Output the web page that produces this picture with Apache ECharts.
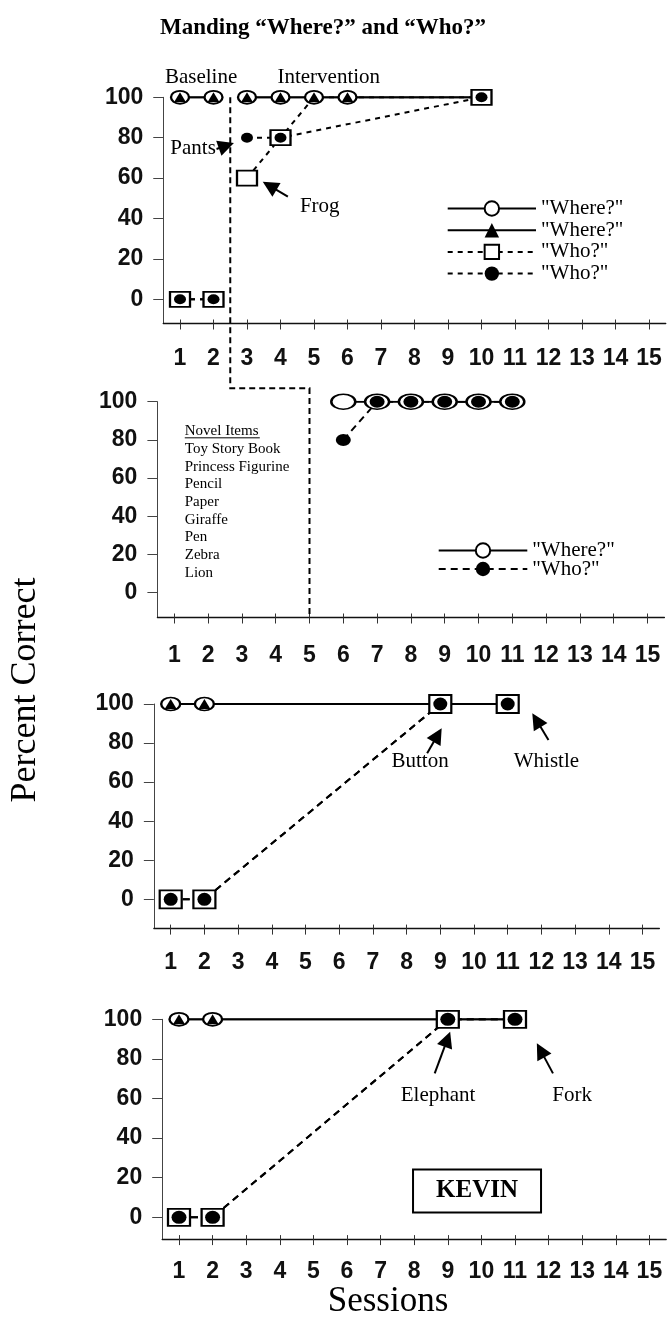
<!DOCTYPE html>
<html>
<head>
<meta charset="utf-8">
<script src="https://cdn.jsdelivr.net/npm/echarts@6/dist/echarts.min.js"></script>
<style>
  html, body { margin: 0; padding: 0; background: #fff; }
  #main { width: 667px; height: 1335px; }
</style>
</head>
<body>
<div id="main"></div>
<script>
// ---- data ----
var sessions = [1, 2, 3, 4, 5, 6, 7, 8, 9, 10, 11, 12, 13, 14, 15];
var yTicks = [0, 20, 40, 60, 80, 100];

// panel 1 (baseline: sessions 1-2, intervention: 3 on)
var p1WhereCircleBase = [[1, 100], [2, 100]];
var p1WhereCircleInt = [[3, 100], [4, 100], [5, 100], [6, 100], [10, 100]];
var p1WhereTriBase = [[1, 100], [2, 100]];
var p1WhereTriInt = [[3, 100], [4, 100], [5, 100], [6, 100], [10, 100]];
var p1WhoSquareBase = [[1, 0], [2, 0]];
var p1WhoSquareInt = [[3, 60], [4, 80], [5, 100], [10, 100]];
var p1WhoDotBase = [[1, 0], [2, 0]];
var p1WhoDotInt = [[3, 80], [4, 80], [10, 100]];

// panel 2 (novel items)
var p2Where = [[6, 100], [7, 100], [8, 100], [9, 100], [10, 100], [11, 100]];
var p2Who = [[6, 80], [7, 100], [8, 100], [9, 100], [10, 100], [11, 100]];
var novelItems = ['Toy Story Book', 'Princess Figurine', 'Pencil', 'Paper', 'Giraffe', 'Pen', 'Zebra', 'Lion'];

// panel 3
var p3WhereCircle = [[1, 100], [2, 100], [9, 100], [11, 100]];
var p3WhereTri = [[1, 100], [2, 100], [9, 100], [11, 100]];
var p3WhoSquare = [[1, 0], [2, 0], [9, 100], [11, 100]];
var p3WhoDot = [[1, 0], [2, 0], [9, 100], [11, 100]];

// panel 4
var p4WhereCircle = [[1, 100], [2, 100], [9, 100], [11, 100]];
var p4WhereTri = [[1, 100], [2, 100], [9, 100], [11, 100]];
var p4WhoSquare = [[1, 0], [2, 0], [9, 100], [11, 100]];
var p4WhoDot = [[1, 0], [2, 0], [9, 100], [11, 100]];

var legendNames = { p1A: '"Where?"', p1B: '"Where?"', p1C: '"Who?"', p1D: '"Who?"', p2A: '"Where?"', p2B: '"Who?"' };

// ---- layout ----
var serif = "'Liberation Serif','Times New Roman',serif";
var sans = "'Liberation Sans',Arial,sans-serif";
var grids = [
    { left: 163.25, top: 97.3, width: 502.5, height: 226.2 },
    { left: 157.4, top: 401.7, width: 507, height: 215.8 },
    { left: 153.85, top: 704, width: 505.5, height: 224.6 },
    { left: 162.2, top: 1019.3, width: 504, height: 219.8 }
];
var yMins = [-12, -13, -15, -11];
var xLabelMargins = [24, 27, 23, 21];

var chart = echarts.init(document.getElementById('main'), null, { renderer: 'canvas' });

var xAxes = grids.map(function (g, i) {
    return {
        type: 'value', gridIndex: i, min: 0.5, max: 15.5,
        axisLine: { show: true, onZero: false, lineStyle: { color: '#111', width: 1.3 } },
        axisTick: { show: true, customValues: sessions, length: 6, lineStyle: { color: '#333' } },
        axisLabel: { customValues: sessions, margin: xLabelMargins[i], fontSize: 23, fontWeight: 'bold', fontFamily: sans, color: '#111' },
        splitLine: { show: false }
    };
});
// second x axis on each grid only for the inner half of the "+" ticks
grids.forEach(function (g, i) {
    xAxes.push({
        type: 'value', gridIndex: i, min: 0.5, max: 15.5, position: 'bottom',
        axisLine: { show: false, onZero: false },
        axisTick: { show: true, inside: true, customValues: sessions, length: 4, lineStyle: { color: '#333' } },
        axisLabel: { show: false },
        splitLine: { show: false }
    });
});
var yAxes = grids.map(function (g, i) {
    return {
        type: 'value', gridIndex: i, min: yMins[i], max: 100,
        axisLine: { show: true, onZero: false, lineStyle: { color: '#444', width: 1 } },
        axisTick: { show: true, customValues: yTicks, length: 10, lineStyle: { color: '#444' } },
        axisLabel: { customValues: yTicks, margin: 20, fontSize: 23, fontWeight: 'bold', fontFamily: sans, color: '#111' },
        splitLine: { show: false }
    };
});

function ser(name, gi, data, symbol, size, dash) {
    return {
        name: name, type: 'line', xAxisIndex: gi, yAxisIndex: gi, data: data,
        symbol: symbol, symbolSize: size, showSymbol: true, animation: false,
        itemStyle: { color: '#000', borderColor: '#000', borderWidth: symbol.indexOf('empty') === 0 ? 2 : 0 },
        lineStyle: { color: '#000', width: 2, type: dash || 'solid' },
        emphasis: { disabled: true }
    };
}
var shortDash = [5, 5];
var midDash = [7, 5];

// the square at session 5 sits hidden under the "Where?" circle
var p1SquareIntItems = p1WhoSquareInt.map(function (d) {
    return d[0] === 5 ? { value: d, symbol: 'none' } : d;
});

var series = [
    ser('p1A', 0, p1WhereCircleBase, 'emptyCircle', [18, 13]),
    ser('p1A', 0, p1WhereCircleInt, 'emptyCircle', [18, 13]),
    ser('p1B', 0, p1WhereTriBase, 'triangle', [12, 10]),
    ser('p1B', 0, p1WhereTriInt, 'triangle', [12, 10]),
    ser('p1C', 0, p1WhoSquareBase, 'emptyRect', [20, 15], shortDash),
    ser('p1C', 0, p1SquareIntItems, 'emptyRect', [20, 15], shortDash),
    ser('p1D', 0, p1WhoDotBase, 'circle', [12, 10], shortDash),
    ser('p1D', 0, p1WhoDotInt, 'circle', [12, 10], shortDash),

    ser('p2A', 1, p2Where, 'emptyCircle', [24, 15]),
    ser('p2B', 1, p2Who, 'circle', [15, 12], midDash),

    ser('p3A', 2, p3WhereCircle, 'emptyCircle', [19, 13]),
    ser('p3B', 2, p3WhereTri, 'triangle', [12, 10]),
    ser('p3C', 2, p3WhoSquare, 'emptyRect', [22, 18], midDash),
    ser('p3D', 2, p3WhoDot, 'circle', [14, 13], midDash),

    ser('p4A', 3, p4WhereCircle, 'emptyCircle', [19, 13]),
    ser('p4B', 3, p4WhereTri, 'triangle', [12, 10]),
    ser('p4C', 3, p4WhoSquare, 'emptyRect', [22, 17], midDash),
    ser('p4D', 3, p4WhoDot, 'circle', [15, 13], midDash)
];

function legendFmt(n) { return legendNames[n]; }

chart.setOption({
    backgroundColor: '#fff',
    animation: false,
    grid: grids,
    xAxis: xAxes,
    yAxis: yAxes,
    legend: [
        {
            data: ['p1A', 'p1B', 'p1C', 'p1D'], orient: 'vertical', left: 441.7, top: 193,
            itemWidth: 88.3, itemHeight: 18, itemGap: 0.7, selectedMode: false, formatter: legendFmt,
            textStyle: { fontFamily: serif, fontSize: 21, lineHeight: 18, color: '#000' }
        },
        {
            data: ['p2A', 'p2B'], orient: 'vertical', left: 432.7, top: 535,
            itemWidth: 88.6, itemHeight: 18, itemGap: -2.5, selectedMode: false, formatter: legendFmt,
            textStyle: { fontFamily: serif, fontSize: 21, lineHeight: 18, color: '#000' }
        }
    ],
    series: series
});

// ---- annotations (positions in each panel's data units) ----
function px(gi, p) { return chart.convertToPixel({ gridIndex: gi }, p); }

function txt(gi, p, s, opt) {
    var q = px(gi, p);
    opt = opt || {};
    return {
        type: 'text', x: q[0], y: q[1], z: 50,
        style: {
            text: s, fontFamily: serif, fontSize: opt.size || 21, fontWeight: opt.weight || 'normal',
            fill: '#000', align: opt.align || 'center', verticalAlign: opt.valign || 'middle',
            lineHeight: opt.lineHeight
        }
    };
}

function arrow(gi, from, to) {
    var a = px(gi, from), b = px(gi, to);
    var dx = b[0] - a[0], dy = b[1] - a[1];
    var len = Math.sqrt(dx * dx + dy * dy);
    var ux = dx / len, uy = dy / len;
    var hl = 16, hw = 8;
    var bx = b[0] - ux * hl, by = b[1] - uy * hl;
    return [
        { type: 'line', z: 50, shape: { x1: a[0], y1: a[1], x2: bx + ux * 2, y2: by + uy * 2 }, style: { stroke: '#000', lineWidth: 2 } },
        { type: 'polygon', z: 50, shape: { points: [b, [bx - uy * hw, by + ux * hw], [bx + uy * hw, by - ux * hw]] }, style: { fill: '#000' } }
    ];
}

// phase change line: panel 1 between sessions 2 and 3, stepping to session 5 of panel 2
var ph1 = px(0, [2.5, 100]);
var phStep = px(1, [5, 107]);
var ph2 = px(1, [5, yMins[1]]);
var phase = {
    type: 'polyline', z: 40,
    shape: { points: [ph1, [ph1[0], phStep[1]], phStep, ph2] },
    style: { stroke: '#000', lineWidth: 2, lineDash: [6, 4], fill: null }
};

var novelTop = px(1, [1.31, 89.2]);
var kevin = px(3, [9.87, 13.3]);

var graphics = [
    phase,
    txt(0, [1.63, 110], 'Baseline'),
    txt(0, [5.44, 110], 'Intervention'),
    txt(0, [2.07, 74.7], 'Pants', { align: 'right' }),
    txt(0, [4.58, 45.7], 'Frog', { align: 'left' }),
    txt(1, [1.31, 89.2], ['Novel Items'].concat(novelItems).join('\n'), { size: 15, align: 'left', valign: 'top', lineHeight: 17.7 }),
    {
        type: 'line', z: 50,
        shape: { x1: novelTop[0], y1: novelTop[1] + 15.5, x2: novelTop[0] + 75, y2: novelTop[1] + 15.5 },
        style: { stroke: '#000', lineWidth: 1 }
    },
    txt(2, [8.40, 70.5], 'Button'),
    txt(2, [12.15, 70.5], 'Whistle'),
    txt(3, [8.71, 61.7], 'Elephant'),
    txt(3, [12.7, 61.7], 'Fork'),
    {
        type: 'rect', z: 50,
        shape: { x: kevin[0] - 64, y: kevin[1] - 21.5, width: 128, height: 43 },
        style: { stroke: '#000', lineWidth: 2, fill: '#fff' }
    },
    txt(3, [9.87, 13.3], 'KEVIN', { size: 25, weight: 'bold' }),
    {
        type: 'text', x: 323, y: 28, z: 50,
        style: { text: 'Manding \u201cWhere?\u201d and \u201cWho?\u201d', fontFamily: serif, fontSize: 23, fontWeight: 'bold', fill: '#000', align: 'center', verticalAlign: 'middle' }
    },
    {
        type: 'text', x: 26, y: 690, z: 50, rotation: Math.PI / 2,
        style: { text: 'Percent Correct', fontFamily: serif, fontSize: 36, fill: '#000', align: 'center', verticalAlign: 'middle' }
    },
    {
        type: 'text', x: 388, y: 1302, z: 50,
        style: { text: 'Sessions', fontFamily: serif, fontSize: 35, fill: '#000', align: 'center', verticalAlign: 'middle' }
    }
]
    .concat(arrow(0, [2.09, 74.4], [2.61, 77.4]))
    .concat(arrow(0, [4.22, 50.8], [3.47, 58.2]))
    .concat(arrow(2, [8.61, 74.8], [9.04, 87.6]))
    .concat(arrow(2, [12.21, 81.6], [11.73, 95.2]))
    .concat(arrow(3, [8.61, 72.7], [9.07, 93.7]))
    .concat(arrow(3, [12.13, 72.7], [11.65, 87.9]));

chart.setOption({ graphic: graphics });
</script>
</body>
</html>
